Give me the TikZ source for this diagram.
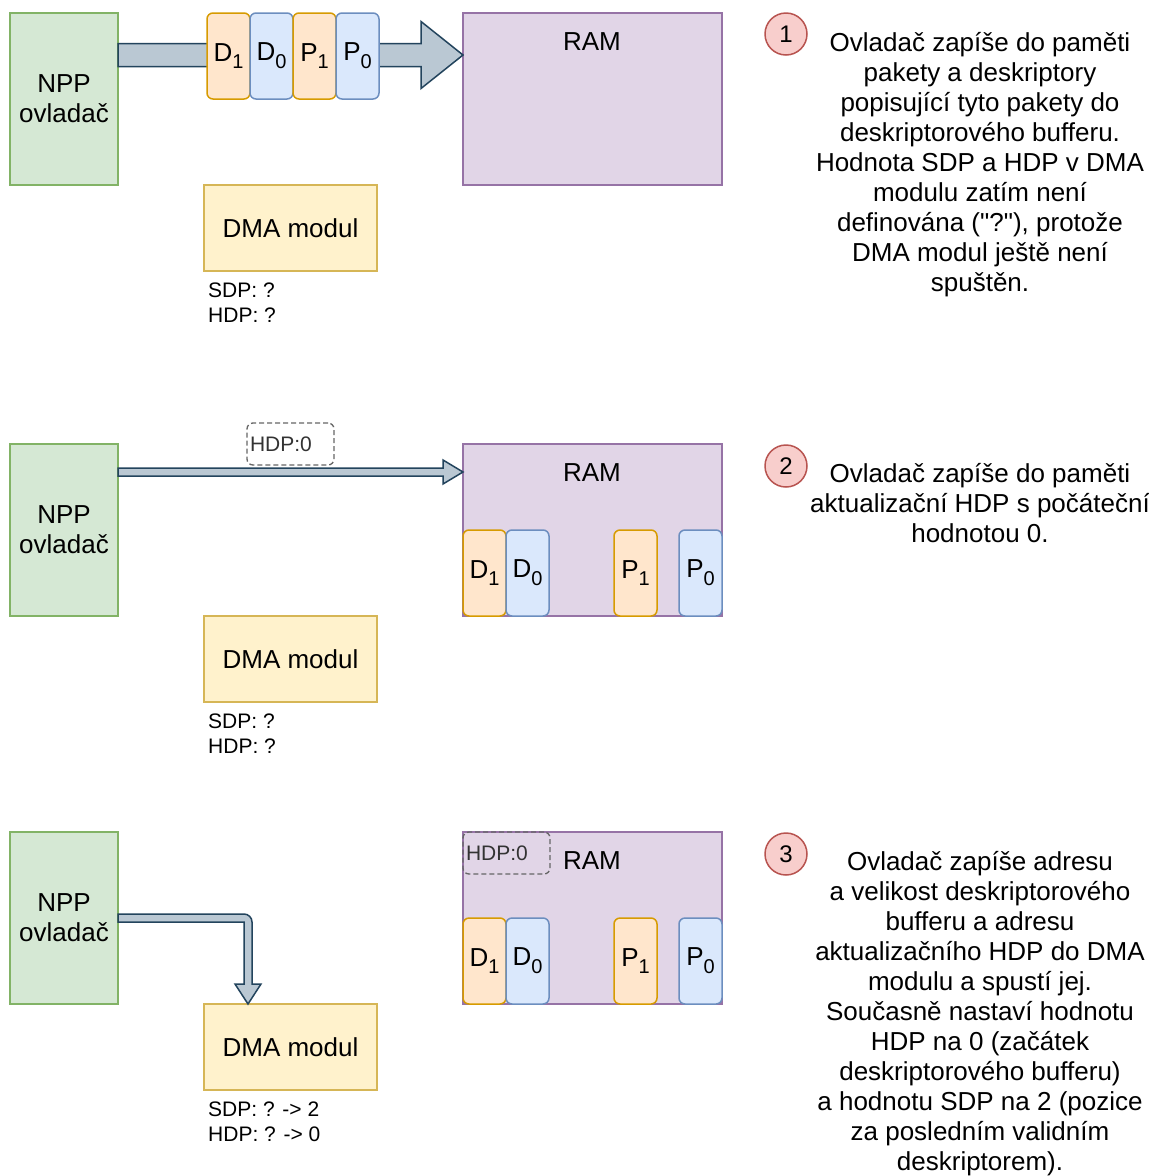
\documentclass[tikz,border=0pt]{standalone}
\usepackage{fontspec}
\setmainfont{Liberation Sans}[Ligatures=TeXOff]
\usetikzlibrary{calc}
\definecolor{nppfill}{HTML}{D5E8D4}\definecolor{nppdraw}{HTML}{82B366}
\definecolor{ramfill}{HTML}{E1D5E7}\definecolor{ramdraw}{HTML}{9673A6}
\definecolor{dmafill}{HTML}{FFF2CC}\definecolor{dmadraw}{HTML}{D6B656}
\definecolor{orfill}{HTML}{FFE6CC}\definecolor{ordraw}{HTML}{D79B00}
\definecolor{blfill}{HTML}{DAE8FC}\definecolor{bldraw}{HTML}{6C8EBF}
\definecolor{arrfill}{HTML}{BAC8D3}\definecolor{arrdraw}{HTML}{23445D}
\definecolor{numfill}{HTML}{F8CECC}\definecolor{numdraw}{HTML}{B85450}
\definecolor{dashgray}{HTML}{666666}\definecolor{dashtext}{HTML}{333333}
\newcommand\bigtext{\fontsize{26}{30}\selectfont}
\newcommand\smalltext{\fontsize{21}{25}\selectfont}
\newcommand\pktlabel[2]{#1\raisebox{-0.3em}{\fontsize{20}{20}\selectfont #2}}
\begin{document}
\begin{tikzpicture}[x=1pt,y=-1pt,
  box/.style={draw, line width=1.5pt, inner sep=0pt, outer sep=0pt, anchor=north west, font=\bigtext, align=center},
  nppbox/.style={box, fill=nppfill, draw=nppdraw, minimum width=108pt, minimum height=172pt},
  rambox/.style={box, fill=ramfill, draw=ramdraw, minimum width=259pt, minimum height=172pt},
  dmabox/.style={box, fill=dmafill, draw=dmadraw, minimum width=173pt, minimum height=86pt},
  pkto/.style={box, fill=orfill, draw=ordraw, rounded corners=6pt, minimum width=43pt, minimum height=86pt},
  pktb/.style={box, fill=blfill, draw=bldraw, rounded corners=6pt, minimum width=43pt, minimum height=86pt},
  flexarr/.style={draw=arrdraw, fill=arrfill, line width=1.5pt, line join=miter},
  numcirc/.style={circle, draw=numdraw, fill=numfill, line width=1.5pt, minimum size=42pt, inner sep=0pt, font=\fontsize{24}{24}\selectfont},
  hdpbox/.style={draw=dashgray, line width=1.3pt, dash pattern=on 5pt off 3pt, rounded corners=6pt, anchor=north west,
    minimum width=87pt, minimum height=42pt, text width=81pt, inner xsep=3pt, inner ysep=0pt, outer sep=0pt,
    align=left, text=dashtext, font=\smalltext},
  regs/.style={anchor=north west, inner sep=0pt, align=left, font=\smalltext},
  note/.style={anchor=north, inner sep=0pt, align=center, font=\bigtext},
  title/.style={font=\bigtext, inner sep=0pt}]
\useasboundingbox (0,0) rectangle (1149,1176);
\fill[white] (0,0) rectangle (1149,1176);

% ---------- step 1 ----------
\node[nppbox] (npp1) at (10,13) {NPP\\ovladač};
\node[rambox] (ram1) at (463,13) {};
\node[title] (ramt1) at (592,42) {RAM};
\node[dmabox] (dma1) at (204,185) {DMA modul};
\node[regs] (reg1) at (208,283) {SDP: ?\\HDP: ?};
\coordinate (s1) at ($(npp1.north east)+(0,42)$);
\coordinate (t1) at ($(ram1.north west)+(0,42)$);
\draw[flexarr] ($(s1)+(0,-11.5)$) -- ($(t1)+(-42,-11.5)$) -- ($(t1)+(-42,-33.5)$) -- (t1)
  -- ($(t1)+(-42,33.5)$) -- ($(t1)+(-42,11.5)$) -- ($(s1)+(0,11.5)$) -- cycle;
\node[pkto] (d1a) at (207,13) {\pktlabel{D}{1}};
\node[pktb] (d0a) at (250,13) {\pktlabel{D}{0}};
\node[pkto] (p1a) at (293,13) {\pktlabel{P}{1}};
\node[pktb] (p0a) at (336,13) {\pktlabel{P}{0}};
\node[numcirc] (n1) at (786,34) {1};
\node[note] (txt1) at (980,32) {Ovladač zapíše do paměti\\pakety a deskriptory\\popisující tyto pakety do\\deskriptorového bufferu.\\Hodnota SDP a HDP v DMA\\modulu zatím není\\definována ("?"), protože\\DMA modul ještě není\\spuštěn.};

% ---------- step 2 ----------
\node[nppbox] (npp2) at (10,444) {NPP\\ovladač};
\node[rambox] (ram2) at (463,444) {};
\node[title] (ramt2) at (592,473) {RAM};
\node[dmabox] (dma2) at (204,616) {DMA modul};
\node[regs] (reg2) at (208,714) {SDP: ?\\HDP: ?};
\node[pkto] (d1b) at (463,530) {\pktlabel{D}{1}};
\node[pktb] (d0b) at (506,530) {\pktlabel{D}{0}};
\node[pkto] (p1b) at (614,530) {\pktlabel{P}{1}};
\node[pktb] (p0b) at (679,530) {\pktlabel{P}{0}};
\coordinate (s2) at ($(npp2.north east)+(0,28)$);
\coordinate (t2) at ($(ram2.north west)+(0,28)$);
\draw[flexarr] ($(s2)+(0,-4)$) -- ($(t2)+(-20,-4)$) -- ($(t2)+(-20,-12)$) -- (t2)
  -- ($(t2)+(-20,12)$) -- ($(t2)+(-20,4)$) -- ($(s2)+(0,4)$) -- cycle;
\node[hdpbox] (hdp2) at (247,423) {HDP:0};
\node[numcirc] (n2) at (786,466) {2};
\node[note] (txt2) at (980,463) {Ovladač zapíše do paměti\\aktualizační HDP s počáteční\\hodnotou 0.};

% ---------- step 3 ----------
\node[nppbox] (npp3) at (10,832) {NPP\\ovladač};
\node[rambox] (ram3) at (463,832) {};
\node[title] (ramt3) at (592,861) {RAM};
\node[hdpbox] (hdp3) at (463,832) {HDP:0};
\node[dmabox] (dma3) at (204,1004) {DMA modul};
\node[regs] (reg3) at (208,1102) {SDP: ? -> 2\\HDP: ? -> 0};
\node[pkto] (d1c) at (463,918) {\pktlabel{D}{1}};
\node[pktb] (d0c) at (506,918) {\pktlabel{D}{0}};
\node[pkto] (p1c) at (614,918) {\pktlabel{P}{1}};
\node[pktb] (p0c) at (679,918) {\pktlabel{P}{0}};
\coordinate (s3) at (npp3.east);
\coordinate (t3) at ($(dma3.north west)+(44,0)$);
\coordinate (c3) at (t3 |- s3);
\draw[flexarr] ($(s3)+(0,-4)$) -- ($(c3)+(-4,-4)$)
  .. controls ($(c3)+(0.42,-4)$) and ($(c3)+(4,-0.42)$) .. ($(c3)+(4,4)$)
  -- ($(t3)+(4,-20)$) -- ($(t3)+(13,-20)$) -- (t3) -- ($(t3)+(-13,-20)$) -- ($(t3)+(-4,-20)$)
  -- ($(c3)+(-4,4)$) -- ($(s3)+(0,4)$) -- cycle;
\node[numcirc] (n3) at (786,854) {3};
\node[note] (txt3) at (980,851) {Ovladač zapíše adresu\\a velikost deskriptorového\\bufferu a adresu\\aktualizačního HDP do DMA\\modulu a spustí jej.\\Současně nastaví hodnotu\\HDP na 0 (začátek\\deskriptorového bufferu)\\a hodnotu SDP na 2 (pozice\\za posledním validním\\deskriptorem).};
\end{tikzpicture}
\end{document}
